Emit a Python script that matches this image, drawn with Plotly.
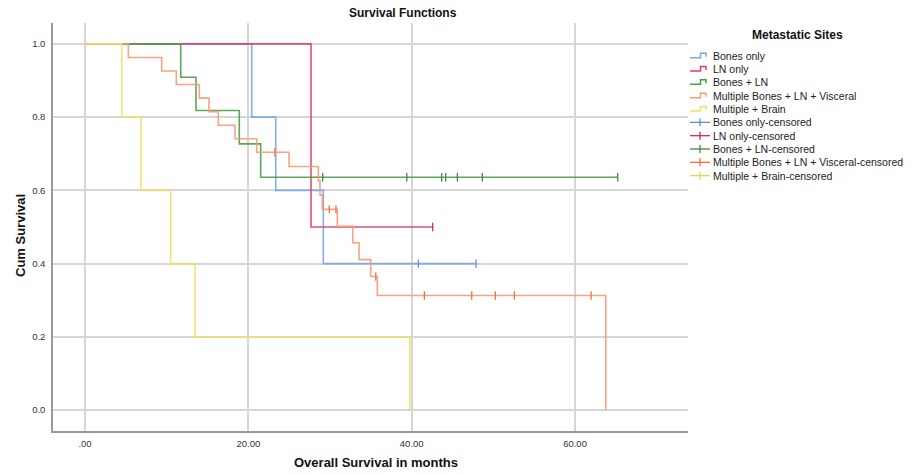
import plotly.graph_objects as go
import numpy as np

# Kaplan-Meier step data per metastatic-site group (months, cumulative survival)
bones_t = [0, 20.41, 23.35, 29.18, 47.88]
bones_s = [1.0, 0.8, 0.6, 0.4, 0.4]
bones_cens = [40.81, 47.88]

ln_t = [0, 27.67, 42.57]
ln_s = [1.0, 0.5, 0.5]
ln_cens = [42.57]

bln_t = [0, 11.72, 13.59, 18.89, 21.51, 65.22]
bln_s = [1.0, 0.909, 0.818, 0.727, 0.636, 0.636]
bln_cens = [29.10, 39.40, 43.67, 44.16, 45.59, 48.65, 65.22]

multi_t = [0, 5.30, 9.39, 11.18, 14.00, 15.18, 16.32, 18.37, 21.02, 24.98,
           28.57, 28.77, 29.06, 30.89, 32.78, 33.55, 34.98, 35.79, 63.76]
multi_s = [1.0, 0.963, 0.926, 0.889, 0.852, 0.815, 0.778, 0.741, 0.704, 0.665,
           0.626, 0.587, 0.548, 0.502, 0.457, 0.411, 0.365, 0.313, 0.0]
multi_cens = [23.26, 29.91, 30.73, 35.60, 41.55, 47.35, 50.24, 52.57, 61.96]

brain_t = [0, 4.49, 6.86, 10.49, 13.47, 39.76]
brain_s = [1.0, 0.8, 0.6, 0.4, 0.2, 0.0]
brain_cens = []

group_names = ["Bones only", "LN only", "Bones + LN",
               "Multiple Bones + LN + Visceral", "Multiple + Brain"]
line_colors = ["#79a6ec", "#dc3f66", "#4a9e4a", "#f99a74", "#efe06a"]
mark_colors = ["#5f92e4", "#d42a55", "#3a8e3a", "#f2703e", "#e8d650"]

x_tickvals = [0, 20, 40, 60]
x_ticktext = [".00", "20.00", "40.00", "60.00"]
y_tickvals = [0.0, 0.2, 0.4, 0.6, 0.8, 1.0]
y_ticktext = ["0.0", "0.2", "0.4", "0.6", "0.8", "1.0"]

groups = [
    (bones_t, bones_s, bones_cens),
    (ln_t, ln_s, ln_cens),
    (bln_t, bln_s, bln_cens),
    (multi_t, multi_s, multi_cens),
    (brain_t, brain_s, brain_cens),
]


def level_at(t_steps, s_steps, t):
    """Survival level of a right-continuous step curve at time t."""
    idx = np.searchsorted(np.asarray(t_steps), t, side="right") - 1
    return s_steps[max(idx, 0)]


FONT = "Liberation Sans, Arial, sans-serif"
fig = go.Figure()

for (t, s, cens), name, lc in zip(groups, group_names, line_colors):
    fig.add_trace(go.Scatter(
        x=t, y=s, mode="lines", line=dict(color=lc, width=1.6, shape="hv"),
        name=name, showlegend=False, opacity=0.9,
    ))

for (t, s, cens), name, mc in zip(groups, group_names, mark_colors):
    if not cens:
        continue
    fig.add_trace(go.Scatter(
        x=cens, y=[level_at(t, s, c) for c in cens], mode="markers",
        marker=dict(symbol="line-ns", size=6, color=mc,
                    line=dict(color=mc, width=1.3)),
        name=name + "-censored", showlegend=False,
    ))

# plot-area geometry in pixels
W, H = 913, 474
L, R, T, B = 53, 688, 23, 431


def px(x):
    return (x - L) / (R - L)


def py(y):
    return (B - y) / (B - T)


annotations = [
    dict(text="<b>Survival Functions</b>", x=px(403), y=py(13), xref="paper", yref="paper",
         showarrow=False, font=dict(family=FONT, size=12, color="#111"),
         xanchor="center", yanchor="middle"),
    dict(text="<b>Overall Survival in months</b>", x=px(376), y=py(462), xref="paper",
         yref="paper", showarrow=False, font=dict(family=FONT, size=13, color="#111"),
         xanchor="center", yanchor="middle"),
    dict(text="<b>Cum Survival</b>", x=px(21), y=py(236), xref="paper", yref="paper",
         showarrow=False, textangle=-90, font=dict(family=FONT, size=13, color="#111"),
         xanchor="center", yanchor="middle"),
    dict(text="<b>Metastatic Sites</b>", x=px(797), y=py(35), xref="paper", yref="paper",
         showarrow=False, font=dict(family=FONT, size=12, color="#111"),
         xanchor="center", yanchor="middle"),
]

shapes = []
legend_labels = group_names + [n + "-censored" for n in group_names]
legend_colors = line_colors + mark_colors
row0, row_gap = 55.7, 13.33
for i, (lab, col) in enumerate(zip(legend_labels, legend_colors)):
    yc = row0 + i * row_gap
    annotations.append(dict(
        text=lab, x=px(711), y=py(yc), xref="paper", yref="paper", showarrow=False,
        xanchor="left", yanchor="middle", font=dict(family=FONT, size=10.5, color="#222"),
    ))
    if i < 5:
        # small step glyph
        pts = [(690, yc + 2), (700.5, yc + 2), (700.5, yc - 2.5), (706, yc - 2.5), (706, yc + 1)]
        path = "M " + " L ".join(f"{px(a):.5f},{py(b):.5f}" for a, b in pts)
        shapes.append(dict(type="path", path=path, xref="paper", yref="paper",
                           line=dict(color=col, width=1.5)))
    else:
        shapes.append(dict(type="line", x0=px(690), x1=px(710), y0=py(yc), y1=py(yc),
                           xref="paper", yref="paper", line=dict(color=col, width=1.3)))
        shapes.append(dict(type="line", x0=px(700), x1=px(700), y0=py(yc - 4), y1=py(yc + 4),
                           xref="paper", yref="paper", line=dict(color=col, width=1.3)))

fig.update_layout(
    width=W, height=H,
    margin=dict(l=L, r=W - R, t=T, b=H - B, pad=0),
    paper_bgcolor="white", plot_bgcolor="white",
    showlegend=False,
    font=dict(family=FONT, color="#333"),
    annotations=annotations, shapes=shapes,
    xaxis=dict(range=[-3.92, 73.83], tickvals=x_tickvals, ticktext=x_ticktext,
               showgrid=True, gridcolor="#d6d6d6", gridwidth=1.5, zeroline=False,
               showline=True, linecolor="#9a9a9a", linewidth=1.5, ticks="",
               tickfont=dict(family=FONT, size=9.5, color="#333"), ticklabelstandoff=3),
    yaxis=dict(range=[-0.057, 1.057], tickvals=y_tickvals, ticktext=y_ticktext,
               showgrid=True, gridcolor="#d6d6d6", gridwidth=1.5, zeroline=False,
               showline=True, linecolor="#9a9a9a", linewidth=1.5, ticks="",
               tickfont=dict(family=FONT, size=9.5, color="#333"), ticklabelstandoff=4),
)

fig.write_html("out.html")
